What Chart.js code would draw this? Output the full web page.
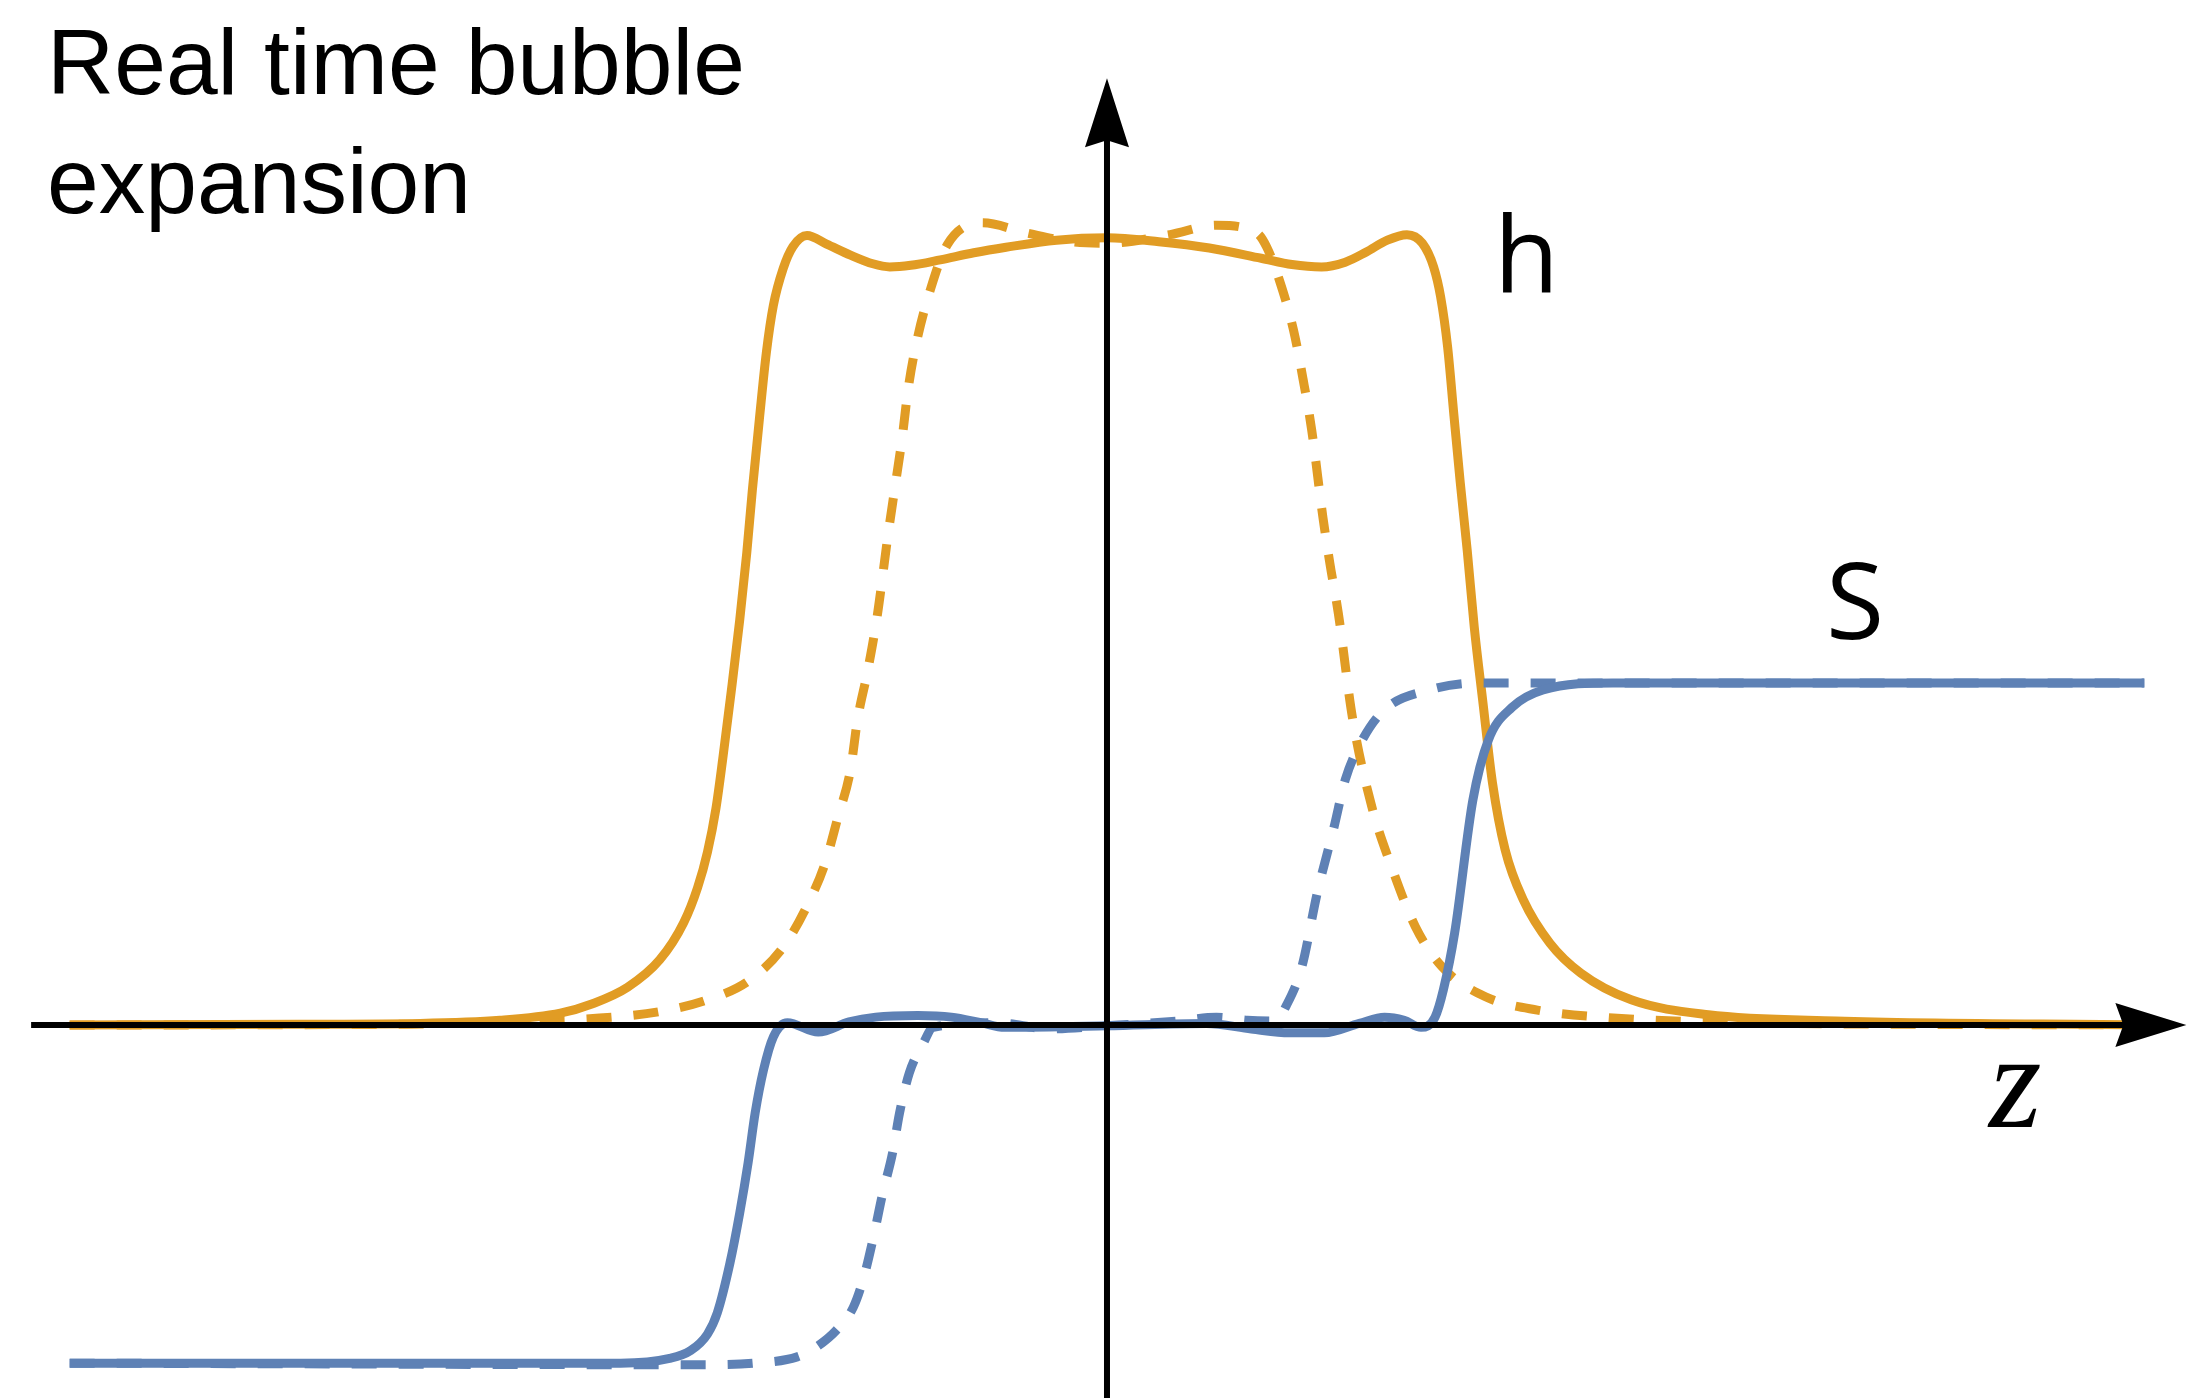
<!DOCTYPE html>
<html>
<head>
<meta charset="utf-8">
<title>Real time bubble expansion</title>
<script src="https://cdn.jsdelivr.net/npm/chart.js@4.4.0/dist/chart.umd.min.js"></script>
<style>
  html, body { margin: 0; padding: 0; background: #fff; }
  #wrap { width: 2198px; height: 1398px; position: relative; }
</style>
</head>
<body>
<div id="wrap"><canvas id="bubbleChart"></canvas></div>
<script>
// h profile, later time (solid)
var hSolidZ = [-7.40, -5.76, -4.90, -4.33, -3.90, -3.67, -3.42, -3.19, -3.02, -2.92, -2.85, -2.79, -2.74, -2.68, -2.62, -2.57, -2.53, -2.48, -2.43, -2.38, -2.31, -2.24, -2.14, -2.00, -1.83, -1.67, -1.55, -1.40, -1.19, -0.95, -0.72, -0.36, 0.00, 0.37, 0.73, 1.10, 1.32, 1.53, 1.70, 1.85, 2.00, 2.14, 2.25, 2.33, 2.38, 2.43, 2.475, 2.52, 2.57, 2.62, 2.68, 2.75, 2.84, 2.97, 3.16, 3.38, 3.74, 4.29, 5.20, 7.40]
var hSolid = [0.000, 0.001, 0.002, 0.006, 0.015, 0.027, 0.048, 0.083, 0.130, 0.175, 0.220, 0.275, 0.340, 0.425, 0.515, 0.600, 0.680, 0.770, 0.855, 0.915, 0.962, 0.990, 1.004, 0.993, 0.979, 0.968, 0.964, 0.966, 0.973, 0.982, 0.989, 0.998, 1.001, 0.996, 0.988, 0.975, 0.967, 0.964, 0.970, 0.983, 0.998, 1.005, 0.994, 0.964, 0.926, 0.862, 0.775, 0.690, 0.603, 0.506, 0.413, 0.308, 0.223, 0.159, 0.104, 0.066, 0.032, 0.013, 0.005, 0.000]

// h profile, earlier time (dashed)
var hDashedZ = [-7.40, -5.00, -4.33, -3.52, -3.19, -2.85, -2.55, -2.31, -2.13, -2.01, -1.92, -1.83, -1.78, -1.71, -1.64, -1.56, -1.51, -1.46, -1.42, -1.36, -1.26, -1.14, -0.89, -0.57, -0.25, 0.00, 0.45, 0.78, 1.07, 1.14, 1.23, 1.33, 1.40, 1.46, 1.54, 1.59, 1.65, 1.75, 1.89, 2.03, 2.20, 2.39, 2.70, 3.07, 3.61, 4.50, 7.40]
var hDashed = [0.000, 0.001, 0.004, 0.010, 0.017, 0.032, 0.057, 0.099, 0.155, 0.206, 0.264, 0.324, 0.388, 0.448, 0.519, 0.626, 0.687, 0.748, 0.807, 0.867, 0.935, 0.992, 1.020, 1.007, 0.996, 0.994, 1.005, 1.017, 1.007, 0.989, 0.947, 0.884, 0.820, 0.757, 0.646, 0.587, 0.524, 0.392, 0.277, 0.201, 0.125, 0.074, 0.036, 0.019, 0.009, 0.003, 0.000]

// S profile, later time (solid)
var sSolidZ = [-7.40, -3.47, -3.12, -2.97, -2.85, -2.78, -2.69, -2.62, -2.56, -2.51, -2.45, -2.38, -2.28, -2.06, -1.84, -1.65, -1.35, -1.11, -0.90, -0.73, 0.00, 0.71, 1.03, 1.30, 1.55, 1.80, 1.98, 2.12, 2.24, 2.34, 2.40, 2.48, 2.61, 2.72, 2.89, 3.11, 3.61, 7.40]
var sSolid = [-0.430, -0.430, -0.424, -0.414, -0.393, -0.366, -0.303, -0.239, -0.175, -0.112, -0.057, -0.015, 0.003, -0.009, 0.004, 0.010, 0.012, 0.010, 0.003, -0.003, -0.001, 0.002, -0.005, -0.010, -0.010, 0.002, 0.010, 0.006, -0.003, 0.010, 0.045, 0.117, 0.286, 0.362, 0.404, 0.426, 0.435, 0.435]

// S profile, earlier time (dashed)
var sDashedZ = [-7.40, -2.83, -2.52, -2.21, -2.07, -1.93, -1.81, -1.74, -1.67, -1.60, -1.53, -1.48, -1.41, -1.31, -1.24, -0.80, -0.40, 0.00, 0.50, 0.78, 1.00, 1.20, 1.28, 1.39, 1.50, 1.62, 1.70, 1.82, 1.98, 2.30, 2.66, 7.40]
var sDashed = [-0.430, -0.432, -0.430, -0.422, -0.409, -0.388, -0.359, -0.324, -0.273, -0.214, -0.163, -0.112, -0.061, -0.023, -0.003, 0.003, -0.005, -0.001, 0.005, 0.010, 0.006, 0.005, 0.025, 0.074, 0.168, 0.252, 0.312, 0.362, 0.401, 0.426, 0.435, 0.435]

var titleLines = ['Real time bubble', 'expansion']
var orange = 'rgb(225, 156, 36)'
var blue = 'rgb(94, 129, 181)'

function toPoints(zs, vs) {
    return zs.map(function (z, i) { return { x: z, y: vs[i] } })
}

// draw both axes with arrowheads on top of the curves
var axesPlugin = {
    id: 'axesPlugin',
    afterDatasetsDraw: function (chart) {
        var ctx = chart.ctx
        var xs = chart.scales.x
        var ys = chart.scales.y
        var x0 = xs.getPixelForValue(0)
        var y0 = ys.getPixelForValue(0)
        var xLeft = xs.getPixelForValue(-7.675)
        var xTip = xs.getPixelForValue(7.70)
        var yTip = ys.getPixelForValue(1.204)
        var yBottom = chart.chartArea.bottom

        ctx.save()
        ctx.strokeStyle = '#000'
        ctx.fillStyle = '#000'
        ctx.lineWidth = 6
        ctx.beginPath()
        ctx.moveTo(xLeft, y0)
        ctx.lineTo(xTip - 40, y0)
        ctx.moveTo(x0, yBottom)
        ctx.lineTo(x0, yTip + 40)
        ctx.stroke()

        // arrow on z axis
        ctx.beginPath()
        ctx.moveTo(xTip, y0)
        ctx.lineTo(xTip - 71, y0 - 22)
        ctx.lineTo(xTip - 63, y0)
        ctx.lineTo(xTip - 71, y0 + 22)
        ctx.closePath()
        ctx.fill()

        // arrow on vertical axis
        ctx.beginPath()
        ctx.moveTo(x0, yTip)
        ctx.lineTo(x0 - 22, yTip + 69)
        ctx.lineTo(x0, yTip + 62)
        ctx.lineTo(x0 + 22, yTip + 69)
        ctx.closePath()
        ctx.fill()
        ctx.restore()
    }
}

// title and curve labels
var labelPlugin = {
    id: 'labelPlugin',
    afterDraw: function (chart) {
        var ctx = chart.ctx
        var xs = chart.scales.x
        var ys = chart.scales.y
        ctx.save()
        ctx.fillStyle = '#000'
        ctx.textBaseline = 'alphabetic'
        ctx.textAlign = 'left'
        ctx.font = '93px "Liberation Sans", Arial, sans-serif'
        ctx.fillText(titleLines[0], 47, 94)
        ctx.fillText(titleLines[1], 47, 213)

        ctx.font = '106px "Open Sans", "Noto Sans", sans-serif'
        ctx.fillText('h', xs.getPixelForValue(2.76), ys.getPixelForValue(0.931))
        ctx.fillText('S', xs.getPixelForValue(5.13), ys.getPixelForValue(0.491))

        ctx.textAlign = 'center'
        ctx.font = 'italic 135px "Liberation Serif", "DejaVu Serif", serif'
        ctx.fillText('z', xs.getPixelForValue(6.48), ys.getPixelForValue(-0.13))
        ctx.restore()
    }
}

function lineSet(label, points, color, dashed, order) {
    return {
        label: label,
        data: points,
        borderColor: color,
        backgroundColor: color,
        borderWidth: 9,
        borderDash: dashed ? [25, 22] : [],
        borderCapStyle: 'butt',
        borderJoinStyle: 'round',
        pointRadius: 0,
        fill: false,
        cubicInterpolationMode: 'monotone',
        order: order
    }
}

var config = {
    type: 'line',
    data: {
        datasets: [
            lineSet('S', toPoints(sSolidZ, sSolid), blue, false, 1),
            lineSet('S earlier', toPoints(sDashedZ, sDashed), blue, true, 2),
            lineSet('h', toPoints(hSolidZ, hSolid), orange, false, 3),
            lineSet('h earlier', toPoints(hDashedZ, hDashed), orange, true, 4)
        ]
    },
    options: {
        responsive: true,
        maintainAspectRatio: false,
        animation: false,
        layout: { padding: 0 },
        plugins: {
            legend: { display: false },
            tooltip: { enabled: false },
            title: { display: false }
        },
        scales: {
            x: { type: 'linear', min: -7.897, max: 7.783, display: false },
            y: { type: 'linear', min: -0.4743, max: 1.3034, display: false }
        }
    },
    plugins: [axesPlugin, labelPlugin]
}

var bubbleChart = new Chart(document.getElementById('bubbleChart'), config)
</script>
</body>
</html>
